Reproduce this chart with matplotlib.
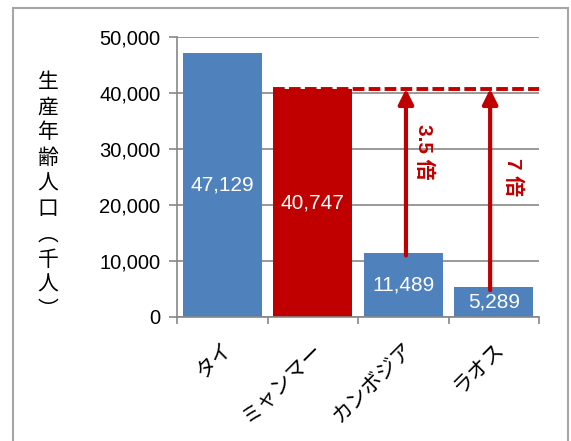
import numpy as np
import matplotlib.pyplot as plt
from matplotlib.patches import Rectangle

plt.rcParams["font.family"] = ["Liberation Sans", "Noto Sans CJK JP", "DejaVu Sans"]

countries = ["タイ", "ミャンマー", "カンボジア", "ラオス"]
population = [47129, 40747, 11489, 5289]
bar_colors = ["#4F81BD", "#C00000", "#4F81BD", "#4F81BD"]
ratio_labels = ["3.5 倍", "7 倍"]
y_ticks = [0, 10000, 20000, 30000, 40000, 50000]
y_label = "生産年齢人口︵千人︶"

RED = "#C00000"

fig = plt.figure(figsize=(5.71, 4.41), dpi=100)
ax = fig.add_axes([177 / 571, 1 - 317 / 441, (539 - 177) / 571, (317 - 37) / 441])

# outer frame around the chart area
fig.patches.append(Rectangle((13 / 571, -0.1), (568 - 13) / 571, 1.1 - 8 / 441,
                             transform=fig.transFigure, fill=False,
                             edgecolor="#A6A6A6", linewidth=1.5))

x = np.arange(len(countries))
bars = ax.bar(x, population, width=0.87, color=bar_colors, zorder=2)

for xi, val in zip(x, population):
    ax.text(xi, val / 2, f"{val:,}", ha="center", va="center",
            color="white", fontsize=15, zorder=3)

# reference level: Myanmar
ref = population[1]
ax.plot([x[1] - 0.435, x[-1] + 0.5], [ref, ref], color=RED, linewidth=2.8,
        linestyle=(0, (3, 1.1)), zorder=4, clip_on=False)

arrow_offsets = [0.03, -0.04]
text_offsets = [0.2, 0.25]
text_y = [29500, 25000]
for k, idx in enumerate([2, 3]):
    xa = x[idx] + arrow_offsets[k]
    ax.annotate("", xy=(xa, ref), xytext=(xa, population[idx] - 500),
                arrowprops=dict(arrowstyle="-|>,head_width=0.45,head_length=0.9",
                                color=RED, linewidth=3, shrinkA=0, shrinkB=0),
                zorder=5)
    ax.text(xa + text_offsets[k], text_y[k], ratio_labels[k], rotation=-90,
            ha="center", va="center", color=RED, fontsize=15,
            fontweight="bold", zorder=5)

ax.set_ylim(0, 50000)
ax.set_xlim(-0.5, len(countries) - 0.5)
ax.set_yticks(y_ticks)
ax.set_yticklabels([f"{v:,}" for v in y_ticks], fontsize=14.5)
ax.yaxis.grid(True, color="#878787", linewidth=1.2, zorder=0)
ax.set_axisbelow(True)

ax.set_xticks(np.arange(len(countries) + 1) - 0.5, minor=False)
ax.set_xticklabels([])
ax.set_xticks(x, minor=True)
ax.set_xticklabels(countries, minor=True, rotation=45, ha="right",
                   va="top", fontsize=15, rotation_mode="anchor")
ax.tick_params(axis="x", which="minor", length=0, pad=16)
ax.tick_params(axis="x", which="major", length=5, color="#878787", width=1.2)
ax.tick_params(axis="y", length=6, color="#878787", width=1.2, pad=6)

for side in ["top", "right"]:
    ax.spines[side].set_visible(False)
for side in ["left", "bottom"]:
    ax.spines[side].set_color("#878787")
    ax.spines[side].set_linewidth(1.2)

fig.text(48 / 571, 1 - 196 / 441, "\n".join(y_label), ha="center", va="center",
         fontsize=15, linespacing=1.2, family=["Noto Sans CJK JP"])

fig.savefig("out.png", dpi=100)
